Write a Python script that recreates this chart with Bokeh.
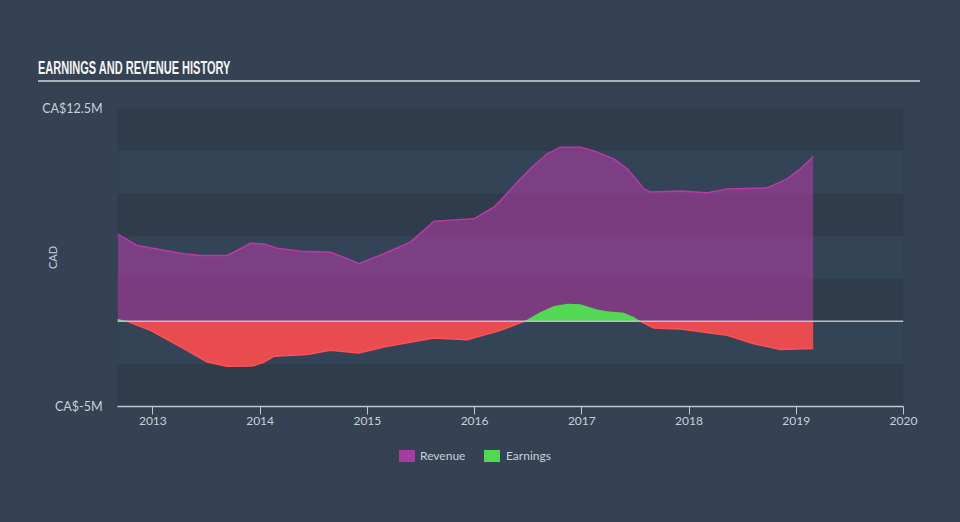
import numpy as np
from bokeh.plotting import figure
from bokeh.models import Range1d, FixedTicker, Span, ColumnDataSource, Div
from bokeh.layouts import column
from bokeh.embed import file_html
from bokeh.resources import INLINE

# ---- data (CA$ millions, decimal years) ----
rev_years = [2012.67, 2012.854, 2013.288, 2013.444, 2013.693, 2013.786, 2013.910, 2014.034,
             2014.159, 2014.377, 2014.656, 2014.780, 2014.920, 2015.153, 2015.402, 2015.526,
             2015.620, 2015.993, 2016.179, 2016.242, 2016.397, 2016.552, 2016.677, 2016.801,
             2016.988, 2017.143, 2017.298, 2017.423, 2017.517, 2017.578, 2017.641, 2017.920,
             2018.169, 2018.356, 2018.729, 2018.915, 2019.039, 2019.158]
rev_values = [5.14, 4.45, 3.97, 3.87, 3.87, 4.16, 4.59, 4.55,
              4.30, 4.12, 4.06, 3.77, 3.38, 3.97, 4.65, 5.34,
              5.88, 6.02, 6.70, 7.09, 8.17, 9.15, 9.84, 10.23,
              10.23, 9.94, 9.54, 8.96, 8.27, 7.78, 7.59, 7.65,
              7.55, 7.78, 7.84, 8.37, 8.96, 9.68]

earn_years = [2012.67, 2012.760, 2012.978, 2013.288, 2013.507, 2013.693, 2013.926, 2014.034,
              2014.128, 2014.439, 2014.656, 2014.920, 2015.153, 2015.620, 2015.931, 2016.242,
              2016.465, 2016.615, 2016.739, 2016.864, 2016.988, 2017.143, 2017.236, 2017.391,
              2017.484, 2017.547, 2017.671, 2017.920, 2018.356, 2018.604, 2018.853, 2019.158]
earn_values = [0.16, 0.00, -0.53, -1.60, -2.39, -2.64, -2.62, -2.40,
               -2.05, -1.94, -1.70, -1.86, -1.51, -0.98, -1.08, -0.53,
               0.00, 0.55, 0.90, 1.04, 1.00, 0.70, 0.60, 0.51,
               0.25, 0.00, -0.39, -0.45, -0.82, -1.31, -1.66, -1.60]

x_ticks = [2013, 2014, 2015, 2016, 2017, 2018, 2019, 2020]
band_ticks = [-5, -2.5, 0, 2.5, 5, 7.5, 10, 12.5]
y_label_ticks = [-5, 12.5]
y_label_text = ["CA$-5M", "CA$12.5M"]

title_text = "EARNINGS AND REVENUE HISTORY"
series_names = ["Revenue", "Earnings"]
y_axis_title = "CAD"

# ---- styles ----
PAGE_BG = "#344253"
DARK_BAND = "#2e3c4b"
LIGHT_BAND = "#334456"
TEXT_COL = "#c9d0d8"
REV_COL = "#a93ba0"
REV_LINE = "#b83aa6"
POS_COL = "#52d852"
NEG_COL = "#e84c4f"
NEG_LINE = "#ff5058"

# ---- title block ----
title_div = Div(
    text=(f'<div style="position:relative;width:960px;height:84px;">'
          f'<div style="position:absolute;left:38px;top:57px;font-family:\'Liberation Sans Narrow\',sans-serif;'
          f'font-weight:bold;font-size:19px;line-height:22px;color:#f4f4f4;white-space:nowrap;'
          f'transform:scaleX(0.58);transform-origin:left center;">{title_text}</div>'
          f'<div style="position:absolute;left:38px;top:80px;width:882px;height:2px;background:#aab2ba;"></div>'
          f'</div>'),
    width=960, height=84, margin=0, styles={"background-color": PAGE_BG})

# ---- main chart ----
p = figure(width=960, height=356,
           x_range=Range1d(2012.67, 2020.0), y_range=Range1d(-5, 12.5),
           output_backend="svg", toolbar_location=None,
           min_border_left=117, min_border_right=57,
           min_border_top=24, min_border_bottom=34, margin=0)
p.background_fill_color = DARK_BAND
p.border_fill_color = PAGE_BG
p.outline_line_color = None

p.xgrid.grid_line_color = None
p.ygrid.grid_line_color = None
p.ygrid.ticker = FixedTicker(ticks=band_ticks)
p.ygrid.band_fill_color = LIGHT_BAND
p.ygrid.band_fill_alpha = 1.0

rev = np.array(rev_values)
ey = np.array(earn_values)
rev_src = ColumnDataSource(dict(x=rev_years, y=rev, z=np.zeros_like(rev)))
earn_src = ColumnDataSource(dict(x=earn_years, pos=np.maximum(ey, 0), neg=np.minimum(ey, 0),
                                 z=np.zeros_like(ey)))

p.varea(x="x", y1="z", y2="y", source=rev_src, fill_color=REV_COL, fill_alpha=0.62)
p.line(x="x", y="y", source=rev_src, line_color=REV_LINE, line_width=1.5)
p.varea(x="x", y1="neg", y2="z", source=earn_src, fill_color=NEG_COL, fill_alpha=1.0)
p.line(x="x", y="neg", source=earn_src, line_color=NEG_LINE, line_width=1.5)
p.varea(x="x", y1="z", y2="pos", source=earn_src, fill_color=POS_COL, fill_alpha=1.0)

p.add_layout(Span(location=0, dimension="width", line_color="#b9c1c9", line_width=1.5))

xa = p.xaxis[0]
xa.ticker = FixedTicker(ticks=x_ticks)
xa.axis_line_color = "#c0c8d0"
xa.axis_line_width = 1.5
xa.major_tick_line_color = "#c0c8d0"
xa.major_tick_out = 8
xa.major_tick_in = 0
xa.minor_tick_line_color = None
xa.major_label_text_color = TEXT_COL
xa.major_label_text_font_size = "12px"
xa.major_label_text_font = "Lato"
xa.major_label_standoff = 2

ya = p.yaxis[0]
ya.ticker = FixedTicker(ticks=y_label_ticks)
ya.major_label_overrides = {k: v for k, v in zip(y_label_ticks, y_label_text)}
ya.axis_line_color = None
ya.major_tick_line_color = None
ya.minor_tick_line_color = None
ya.major_label_text_color = TEXT_COL
ya.major_label_text_font_size = "12.5px"
ya.major_label_text_font = "Lato"
ya.major_label_standoff = 9
ya.axis_label = y_axis_title
ya.axis_label_text_color = TEXT_COL
ya.axis_label_text_font_size = "11px"
ya.axis_label_text_font = "Lato"
ya.axis_label_text_font_style = "normal"
ya.axis_label_standoff = -20

# ---- legend block ----
def swatch(left, color):
    return (f'<div style="position:absolute;left:{left}px;top:10px;width:16px;height:12px;'
            f'background:{color};"></div>')

def label(left, text):
    return (f'<div style="position:absolute;left:{left}px;top:8px;font-family:Lato,sans-serif;'
            f'font-size:12px;line-height:16px;color:{TEXT_COL};white-space:nowrap;">{text}</div>')

legend_div = Div(
    text=(f'<div style="position:relative;width:960px;height:82px;">'
          + swatch(399, REV_COL) + label(420, series_names[0])
          + swatch(484, POS_COL) + label(506, series_names[1])
          + '</div>'),
    width=960, height=82, margin=0, styles={"background-color": PAGE_BG})

layout = column(title_div, p, legend_div, spacing=0, margin=0,
                styles={"background-color": PAGE_BG})

open("out.html", "w").write(file_html(layout, INLINE))
